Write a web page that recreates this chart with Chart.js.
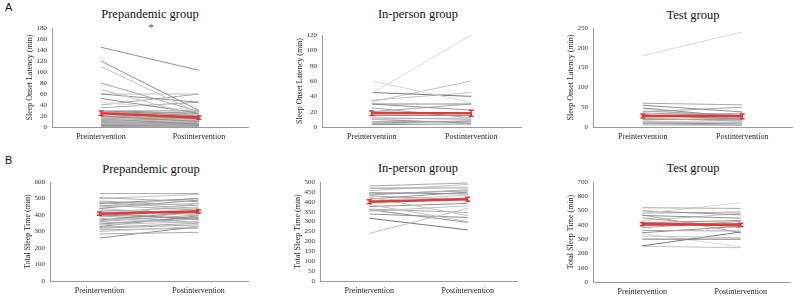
<!DOCTYPE html>
<html><head><meta charset="utf-8">
<script src="https://cdn.jsdelivr.net/npm/chart.js@4"></script>
<style>
body{margin:0;width:800px;height:299px;background:#fff;position:relative;overflow:hidden;font-family:"Liberation Serif","Times New Roman",serif;}
canvas{position:absolute;}
.t{position:absolute;transform:translate(-50%,-50%);font-size:12.5px;color:#111;white-space:nowrap;}
.p{position:absolute;font-family:"Liberation Sans",Arial,sans-serif;font-size:11px;color:#111;}
</style></head><body>
<div class="p" style="left:5px;top:1px">A</div>
<div class="p" style="left:5px;top:154px">B</div>
<div class="t" style="left:150px;top:14px">Prepandemic group</div>
<div class="t" style="left:151px;top:27px;font-size:11px;color:#555">*</div>
<div class="t" style="left:418px;top:14px">In-person group</div>
<div class="t" style="left:693px;top:15px">Test group</div>
<div class="t" style="left:151px;top:169px">Prepandemic group</div>
<div class="t" style="left:418px;top:168px">In-person group</div>
<div class="t" style="left:693px;top:168px">Test group</div>
<script>
// ---- data ----
const categories = ["Preintervention", "Postintervention"];

// A: Sleep Onset Latency (min)
const solPrepandemicPre  = [145,120,110,80,68,60,60,52,45,40,35,30,30,30,28,25,20,20,15,15,10,10,5,5,2,20,25,12,8,3,18,22,15,10,8,5,30,25,20,12,6,4,28,16,9,3,1,14];
const solPrepandemicPost = [103,30,25,28,20,45,60,25,30,60,45,30,20,15,22,28,10,15,10,5,5,10,5,2,3,12,8,6,10,4,15,20,12,8,5,3,25,18,14,10,4,2,24,12,6,2,1,10];
const solPrepandemicMean = [25, 17];
const solPrepandemicErr  = [4, 3];

const solInPersonPre  = [44,60,45,33,35,30,30,20,20,15,12,10,10,7,5,5,3,25];
const solInPersonPost = [120,32,40,60,45,30,22,30,18,15,10,12,5,7,8,3,4,12];
const solInPersonMean = [18, 18];
const solInPersonErr  = [3, 4];

const solTestPre  = [180,60,55,48,38,35,30,28,25,22,20,18,15,12,10,8,5,40,45];
const solTestPost = [240,56,38,25,50,30,20,35,28,15,18,22,10,12,8,5,4,30,20];
const solTestMean = [28, 27];
const solTestErr  = [5, 6];

// B: Total Sleep Time (min)
const tstPrepandemicPre  = [530,505,500,485,470,460,450,440,430,420,410,400,390,380,370,360,350,340,330,320,300,285,260,475,455,415,395,365,345,325,310,440];
const tstPrepandemicPost = [530,480,525,455,500,430,470,490,410,445,460,380,470,350,420,400,375,360,395,340,330,295,330,440,500,370,355,415,385,350,320,400];
const tstPrepandemicMean = [408, 422];
const tstPrepandemicErr  = [10, 10];

const tstInPersonPre  = [480,468,456,446,434,424,414,397,386,376,363,352,338,240,317,470,430,405,360,440];
const tstInPersonPost = [495,470,488,440,461,330,449,420,300,392,346,380,321,367,258,475,410,434,296,455];
const tstInPersonMean = [400, 413];
const tstInPersonErr  = [10, 10];

const tstTestPre  = [520,480,498,482,466,450,431,380,361,345,322,300,253,250,340,470,415,395];
const tstTestPost = [515,555,470,490,447,380,480,424,357,390,310,300,350,240,245,346,430,410];
const tstTestMean = [405, 400];
const tstTestErr  = [12, 12];

const solTitle = "Sleep Onset Latency (min)";
const tstTitle = "Total Sleep Time (min)";

// ---- styles (separate from data) ----
const grays = ['#767676','#909090','#a9a9a9','#c2c2c2','#d8d8d8'];
const shadesA1 = "113231314223123212312322133221231223122312231222";
const shadesA2 = "440331122123121312";
const shadesA3 = "421122123212321232";
const shadesB1 = "223212312341231223123212312312231";
const shadesB2 = "22312312312313042312";
const shadesB3 = "241212322130034212";

const FONT = '"Liberation Serif","Times New Roman",serif';

const errPlugin = {
  id: 'errbars',
  afterDatasetsDraw(chart, args, opts) {
    const ctx = chart.ctx;
    const ys = chart.scales.y;
    const meta = chart.getDatasetMeta(chart.data.datasets.length - 1);
    const mean = opts.mean, err = opts.err;
    ctx.save();
    ctx.strokeStyle = '#d93a35';
    ctx.lineWidth = 1.5;
    meta.data.forEach((pt, i) => {
      const x = pt.x;
      const y1 = ys.getPixelForValue(mean[i] - err[i]);
      const y2 = ys.getPixelForValue(mean[i] + err[i]);
      ctx.beginPath();
      ctx.moveTo(x, y1); ctx.lineTo(x, y2);
      ctx.moveTo(x - 2.5, y1); ctx.lineTo(x + 2.5, y1);
      ctx.moveTo(x - 2.5, y2); ctx.lineTo(x + 2.5, y2);
      ctx.stroke();
    });
    ctx.restore();
  }
};

function panel(L) {
  const x = L.axisX - 30, y = L.top - 10;
  const w = L.right + 5 - x, h = L.bottom + 18 - y;
  const c = document.createElement('canvas');
  c.width = w; c.height = h;
  c.style.left = x + 'px'; c.style.top = y + 'px';
  c.style.width = w + 'px'; c.style.height = h + 'px';
  document.body.appendChild(c);
  const ds = L.pre.map((v, i) => ({
    data: [v, L.post[i]],
    borderColor: grays[+L.shades[i % L.shades.length]],
    borderWidth: 1, pointRadius: 0, tension: 0, order: 1
  }));
  ds.push({ data: L.mean.slice(), borderColor: 'rgba(221,52,47,0.95)', borderWidth: 2.6, pointRadius: 0, order: -1 });
  new Chart(c, {
    type: 'line',
    data: { labels: categories, datasets: ds },
    options: {
      responsive: false, animation: false, devicePixelRatio: 1,
      layout: { padding: { top: 10, right: 5, left: 0, bottom: 0 } },
      plugins: { legend: { display: false }, tooltip: { enabled: false }, errbars: { mean: L.mean, err: L.err } },
      scales: {
        x: {
          offset: true,
          grid: { display: false, drawTicks: false },
          border: { color: '#9a9a9a', width: 1 },
          ticks: { font: { family: FONT, size: 8 }, color: '#222', padding: 5, maxRotation: 0, autoSkip: false },
          afterFit(s) { s.height = 18; }
        },
        y: {
          min: 0, max: L.max,
          grid: { display: false, drawTicks: false },
          border: { color: '#9a9a9a', width: 1 },
          ticks: { stepSize: L.step, font: { family: FONT, size: 7 }, color: '#333', padding: 5, autoSkip: false },
          title: { display: true, text: L.title, font: { family: FONT, size: 8 }, color: '#222', padding: { top: 3, bottom: 0 } },
          afterFit(s) { s.width = 30; }
        }
      }
    },
    plugins: [errPlugin]
  });
}

panel({axisX:52, right:248, top:28, bottom:127, max:180, step:20, pre:solPrepandemicPre, post:solPrepandemicPost, mean:solPrepandemicMean, err:solPrepandemicErr, shades:shadesA1, title:solTitle});
panel({axisX:322, right:521, top:35, bottom:127, max:120, step:20, pre:solInPersonPre, post:solInPersonPost, mean:solInPersonMean, err:solInPersonErr, shades:shadesA2, title:solTitle});
panel({axisX:593, right:792, top:28, bottom:127, max:250, step:50, pre:solTestPre, post:solTestPost, mean:solTestMean, err:solTestErr, shades:shadesA3, title:solTitle});
panel({axisX:50, right:248, top:182, bottom:281, max:600, step:100, pre:tstPrepandemicPre, post:tstPrepandemicPost, mean:tstPrepandemicMean, err:tstPrepandemicErr, shades:shadesB1, title:tstTitle});
panel({axisX:320, right:517, top:182, bottom:281, max:500, step:50, pre:tstInPersonPre, post:tstInPersonPost, mean:tstInPersonMean, err:tstInPersonErr, shades:shadesB2, title:tstTitle});
panel({axisX:593, right:790, top:182, bottom:282, max:700, step:100, pre:tstTestPre, post:tstTestPost, mean:tstTestMean, err:tstTestErr, shades:shadesB3, title:tstTitle});
</script>
</body></html>
